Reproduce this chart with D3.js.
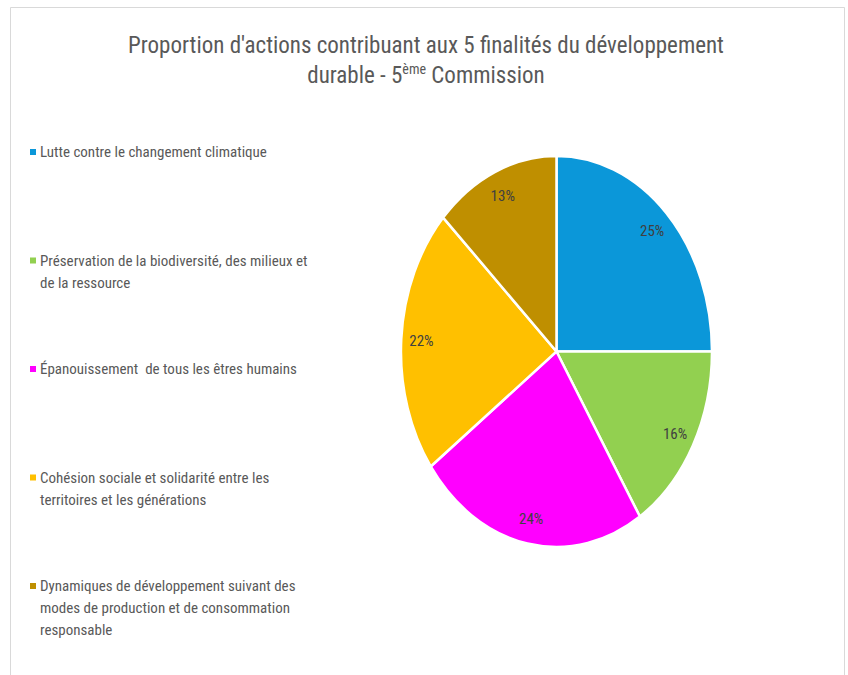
<!DOCTYPE html>
<html>
<head>
<meta charset="utf-8">
<script src="https://cdn.jsdelivr.net/npm/d3@7"></script>
<style>
  body { margin: 0; background: #fff; }
  svg text { font-family: "Liberation Sans Narrow", "Arial Narrow", "Roboto Condensed", sans-serif; fill: #595959; }
  .leg text { white-space: pre; }
</style>
</head>
<body>
<div id="chart"></div>
<script>
// Data
const categories = [
  "Lutte contre le changement climatique",
  "Préservation de la biodiversité, des milieux et\nde la ressource",
  "Épanouissement  de tous les êtres humains",
  "Cohésion sociale et solidarité entre les\nterritoires et les générations",
  "Dynamiques de développement suivant des\nmodes de production et de consommation\nresponsable"
]
const values = [25, 16, 24, 22, 13]
const colors = ["#0b97d9", "#92d050", "#ff00ff", "#ffc000", "#bf8f00"]

// Canvas
const width = 848,
      height = 675,
      cx = 556.5,
      cy = 351.5,
      rx = 155.5,
      ry = 195.5

let svg = d3.select('#chart')
  .append('svg')
  .attr('width', width)
  .attr('height', height)

// frame
svg.append('path')
  .attr('d', `M10.5,${height} V7.5 H844.5 V${height}`)
  .attr('fill', 'none')
  .attr('stroke', '#d9d9d9')
  .attr('stroke-width', 1)

// title
let title = svg.append('text')
  .attr('text-anchor', 'middle')
  .style('font-size', '23px')
title.append('tspan').attr('x', 426).attr('y', 53)
  .text("Proportion d'actions contribuant aux 5 finalités du développement")
let t2 = title.append('tspan').attr('x', 426).attr('y', 83)
t2.append('tspan').text('durable - 5')
t2.append('tspan').attr('dy', -9).style('font-size', '14px').text('ème')
t2.append('tspan').attr('dy', 9).text(' Commission')

// pie (unit radius, stretched to ellipse)
let pie = d3.pie().sort(null).value(d => d)
let arcs = pie(values)
let arc = d3.arc().innerRadius(0).outerRadius(1)
let labelArc = d3.arc().innerRadius(0.87).outerRadius(0.87)

let g = svg.append('g')
  .attr('transform', `translate(${cx},${cy}) scale(${rx},${ry})`)

g.selectAll('path')
  .data(arcs)
  .enter()
  .append('path')
  .attr('d', arc)
  .attr('fill', (d, i) => colors[i])
  .attr('stroke', '#fff')
  .attr('stroke-width', 2.5)
  .attr('vector-effect', 'non-scaling-stroke')

svg.selectAll('.lbl')
  .data(arcs)
  .enter()
  .append('text')
  .attr('class', 'lbl')
  .attr('x', d => cx + labelArc.centroid(d)[0] * rx)
  .attr('y', d => cy + labelArc.centroid(d)[1] * ry)
  .attr('text-anchor', 'middle')
  .attr('dy', '0.35em')
  .style('font-size', '15px')
  .style('fill', '#404040')
  .text(d => d.data + '%')

// legend
let legend = svg.selectAll('.leg')
  .data(categories)
  .enter()
  .append('g')
  .attr('class', 'leg')
  .attr('transform', (d, i) => `translate(30,${152 + i * 108.5})`)

legend.append('rect')
  .attr('x', 0)
  .attr('y', -3)
  .attr('width', 6)
  .attr('height', 6)
  .attr('fill', (d, i) => colors[i])

legend.append('text')
  .style('font-size', '15px')
  .selectAll('tspan')
  .data(d => d.split('\n'))
  .enter()
  .append('tspan')
  .attr('x', 10)
  .attr('y', (d, i) => i * 22)
  .attr('dy', '0.35em')
  .text(d => d)
</script>
</body>
</html>
